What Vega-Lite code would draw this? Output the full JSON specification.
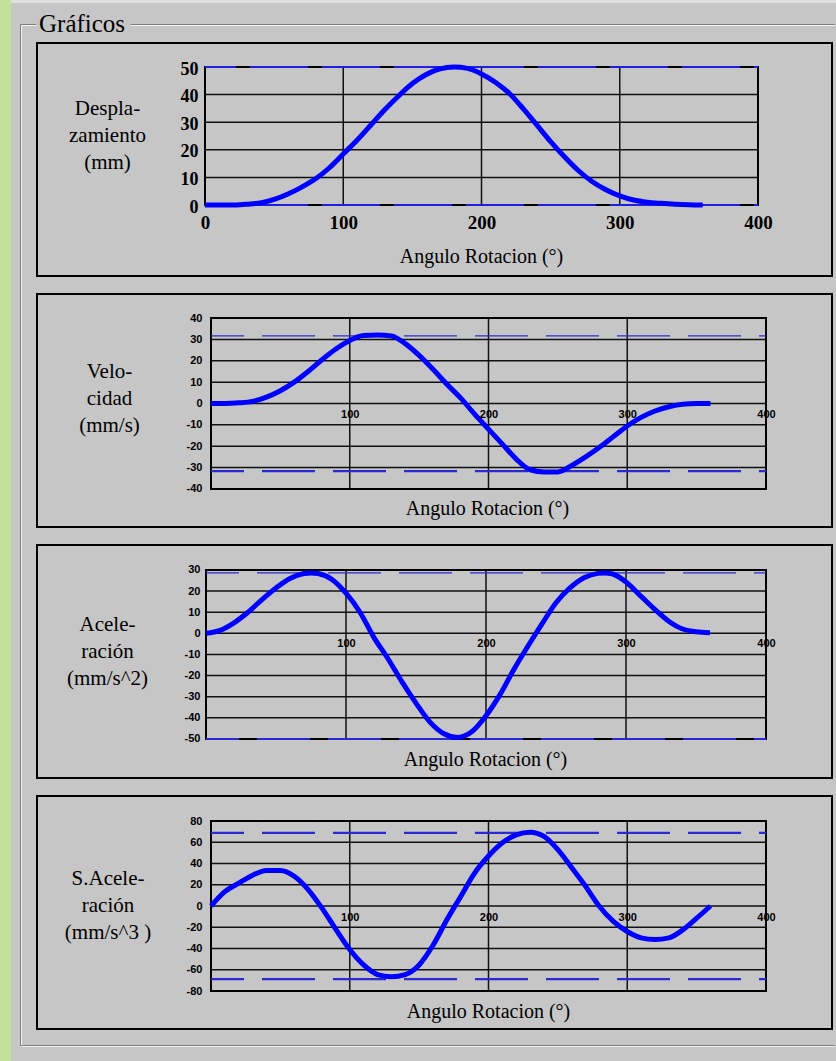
{
  "$schema": "https://vega.github.io/schema/vega-lite/v6.json",
  "background": "#c6c6c6",
  "padding": 0,
  "bounds": "flush",
  "spacing": 18,
  "config": {
    "view": {"stroke": null},
    "axis": {
      "domain": false, "ticks": false, "tickSize": 0, "grid": false,
      "labelFlush": false, "labelOverlap": false, "labelBound": false,
      "labelColor": "#000", "titleColor": "#000", "titleFontWeight": "normal",
      "titlePadding": 0
    }
  },
  "vconcat": [
    {
      "width": 795, "height": 233,
      "data": {"values": [{}]},
      "layer": [
        {"mark": {"type": "rect", "fill": "#c6c6c6"},
         "encoding": {"x": {"datum": -148.28}, "x2": {"datum": 456.42}, "y": {"datum": 74.275}, "y2": {"datum": -310.145}}},
        {"mark": {"type": "rect", "fill": "#dedede"},
         "encoding": {"x": {"datum": -148.28}, "x2": {"datum": 456.42}, "y": {"datum": 74.275}, "y2": {"datum": 73.19}}},
        {"mark": {"type": "rect", "fill": "#c3e096"},
         "encoding": {"x": {"datum": -148.28}, "x2": {"datum": -140.33}, "y": {"datum": 74.275}, "y2": {"datum": -310.145}}},
        {"mark": {"type": "rule", "color": "#f4f4f4", "strokeWidth": 1},
         "encoding": {"x": {"datum": -132.73}, "x2": {"datum": -122.24}, "y": {"datum": 65.04}}},
        {"mark": {"type": "rule", "color": "#f4f4f4", "strokeWidth": 1},
         "encoding": {"x": {"datum": -53.53}, "x2": {"datum": 455.7}, "y": {"datum": 65.04}}},
        {"mark": {"type": "rule", "color": "#f4f4f4", "strokeWidth": 1},
         "encoding": {"x": {"datum": -132.73}, "y": {"datum": 65.04}, "y2": {"datum": -304.89}}},
        {"mark": {"type": "rule", "color": "#f4f4f4", "strokeWidth": 1},
         "encoding": {"x": {"datum": -132.73}, "x2": {"datum": 455.7}, "y": {"datum": -304.89}}},
        {"mark": {"type": "rule", "color": "#7c7c7c", "strokeWidth": 1},
         "encoding": {"x": {"datum": -133.45}, "x2": {"datum": -122.24}, "y": {"datum": 65.4}}},
        {"mark": {"type": "rule", "color": "#7c7c7c", "strokeWidth": 1},
         "encoding": {"x": {"datum": -53.53}, "x2": {"datum": 455.7}, "y": {"datum": 65.4}}},
        {"mark": {"type": "rule", "color": "#7c7c7c", "strokeWidth": 1},
         "encoding": {"x": {"datum": -133.45}, "y": {"datum": 65.4}, "y2": {"datum": -304.53}}},
        {"mark": {"type": "rule", "color": "#7c7c7c", "strokeWidth": 1},
         "encoding": {"x": {"datum": -133.45}, "x2": {"datum": 455.7}, "y": {"datum": -304.53}}},
        {"mark": {"type": "text", "text": "Gráficos", "font": "Liberation Serif", "fontSize": 25, "align": "left", "baseline": "alphabetic", "color": "#000"},
         "encoding": {"x": {"datum": -120.07}, "y": {"datum": 62.68}}},
        {"mark": {"type": "rect", "filled": false, "stroke": "#000", "strokeWidth": 2},
         "encoding": {"x": {"datum": -121.52}, "x2": {"datum": 453.53}, "y": {"datum": -25.72}, "y2": {"datum": 58.7}}},
        {"data": {"values": [{"v": 10}, {"v": 20}, {"v": 30}, {"v": 40}]},
         "mark": {"type": "rule", "color": "#111", "strokeWidth": 1.5},
         "encoding": {"y": {"field": "v", "type": "quantitative"}, "x": {"datum": 0}, "x2": {"datum": 400}}},
        {"data": {"values": [{"a": 100}, {"a": 200}, {"a": 300}]},
         "mark": {"type": "rule", "color": "#111", "strokeWidth": 1.5},
         "encoding": {"x": {"field": "a", "type": "quantitative"}, "y": {"datum": 0}, "y2": {"datum": 50}}},
        {"mark": {"type": "rect", "filled": false, "stroke": "#000", "strokeWidth": 2},
         "encoding": {"x": {"datum": 0}, "x2": {"datum": 400}, "y": {"datum": 0}, "y2": {"datum": 50}}},
        {"data": {"values": [{"v": 50}, {"v": 0}]},
         "mark": {"type": "rule", "color": "#2020dd", "strokeWidth": 2, "strokeDash": [58, 14], "strokeDashOffset": 27},
         "encoding": {"y": {"field": "v", "type": "quantitative"}, "x": {"datum": 0}, "x2": {"datum": 400}}},
        {"data": {"values": [
          {"a": 0, "v": 0}, {"a": 10, "v": 0}, {"a": 20, "v": 0}, {"a": 30, "v": 0.3}, {"a": 40, "v": 0.7},
          {"a": 50, "v": 2}, {"a": 60, "v": 4}, {"a": 70, "v": 6.5}, {"a": 80, "v": 9.5}, {"a": 90, "v": 13.5},
          {"a": 100, "v": 18.5}, {"a": 110, "v": 23.5}, {"a": 120, "v": 29}, {"a": 130, "v": 34.5}, {"a": 140, "v": 39.5},
          {"a": 150, "v": 44}, {"a": 160, "v": 47.3}, {"a": 170, "v": 49.3}, {"a": 180, "v": 50}, {"a": 190, "v": 49.5},
          {"a": 200, "v": 47.5}, {"a": 210, "v": 44.5}, {"a": 220, "v": 40.5}, {"a": 230, "v": 35}, {"a": 240, "v": 29},
          {"a": 250, "v": 23}, {"a": 260, "v": 17.5}, {"a": 270, "v": 12.5}, {"a": 280, "v": 8.5}, {"a": 290, "v": 5.5},
          {"a": 300, "v": 3.3}, {"a": 310, "v": 1.8}, {"a": 320, "v": 1}, {"a": 330, "v": 0.6}, {"a": 340, "v": 0.3},
          {"a": 350, "v": 0.1}, {"a": 360, "v": 0}]},
         "mark": {"type": "line", "color": "#0000ff", "strokeWidth": 5, "interpolate": "monotone", "strokeJoin": "round"},
         "encoding": {
           "x": {"field": "a", "type": "quantitative",
                 "scale": {"domain": [-121.52, 453.53], "nice": false, "zero": false},
                 "axis": {"zindex": 1, "tickCount": 50, "labelOverlap": false, "values": [0, 100, 200, 300, 400], "offset": -71, "labelPadding": 17, "labelBaseline": "middle",
                          "labelFont": "Liberation Serif", "labelFontSize": 19, "labelFontWeight": "bold",
                          "labelExpr": "'' + datum.value",
                          "title": "Angulo Rotacion (°)", "titleFont": "Liberation Serif", "titleFontSize": 20,
                          "titleX": 444, "titleY": 57, "titleAlign": "center", "titleBaseline": "alphabetic", "titleAngle": 0}},
           "y": {"field": "v", "type": "quantitative",
                 "scale": {"domain": [-25.72, 58.7], "nice": false, "zero": false},
                 "axis": {"zindex": 1, "tickCount": 50, "labelOverlap": false, "values": [0, 10, 20, 30, 40, 50], "offset": -168, "labelPadding": 7, "labelBaseline": "middle", "labelOffset": 2,
                          "labelFont": "Liberation Serif", "labelFontSize": 18, "labelFontWeight": "bold",
                          "labelExpr": "'' + datum.value",
                          "title": ["Despla-", "zamiento", "(mm)"], "titleFont": "Liberation Serif", "titleFontSize": 21,
                          "titleAngle": 0, "titleAlign": "center", "titleBaseline": "alphabetic",
                          "titleX": -98, "titleY": 71, "titleLineHeight": 27}}
         }}
      ]
    },
    {
      "width": 795, "height": 233,
      "data": {"values": [{}]},
      "layer": [
        {"mark": {"type": "rect", "filled": false, "stroke": "#000", "strokeWidth": 2},
         "encoding": {"x": {"datum": -125.4}, "x2": {"datum": 447.57}, "y": {"datum": -57.78}, "y2": {"datum": 51.23}}},
        {"data": {"values": [{"v": -30}, {"v": -20}, {"v": -10}, {"v": 0}, {"v": 10}, {"v": 20}, {"v": 30}]},
         "mark": {"type": "rule", "color": "#111", "strokeWidth": 1.5},
         "encoding": {"y": {"field": "v", "type": "quantitative"}, "x": {"datum": 0}, "x2": {"datum": 400}}},
        {"data": {"values": [{"a": 100}, {"a": 200}, {"a": 300}]},
         "mark": {"type": "rule", "color": "#111", "strokeWidth": 1.5},
         "encoding": {"x": {"field": "a", "type": "quantitative"}, "y": {"datum": -40}, "y2": {"datum": 40}}},
        {"mark": {"type": "rect", "filled": false, "stroke": "#000", "strokeWidth": 2},
         "encoding": {"x": {"datum": 0}, "x2": {"datum": 400}, "y": {"datum": -40}, "y2": {"datum": 40}}},
        {"data": {"values": [{"v": 31.6, "b": "max"}, {"v": -31.6, "b": "min"}]},
         "mark": {"type": "rule", "color": "#2a2ad0", "strokeDash": [53, 18], "strokeDashOffset": 20},
         "encoding": {"y": {"field": "v", "type": "quantitative"}, "x": {"datum": 0}, "x2": {"datum": 400},
                      "size": {"field": "b", "type": "ordinal", "scale": {"domain": ["max", "min"], "range": [1.2, 2.2]}, "legend": null}}},
        {"data": {"values": [
          {"a": 0, "v": 0}, {"a": 10, "v": 0}, {"a": 20, "v": 0.3}, {"a": 30, "v": 1}, {"a": 40, "v": 3},
          {"a": 50, "v": 6}, {"a": 60, "v": 10}, {"a": 70, "v": 15}, {"a": 80, "v": 20.5}, {"a": 90, "v": 25.5},
          {"a": 100, "v": 29.5}, {"a": 110, "v": 31.8}, {"a": 120, "v": 32}, {"a": 130, "v": 31.6}, {"a": 140, "v": 28},
          {"a": 150, "v": 22.5}, {"a": 160, "v": 16}, {"a": 170, "v": 9}, {"a": 180, "v": 2.5}, {"a": 190, "v": -5},
          {"a": 200, "v": -12}, {"a": 210, "v": -19}, {"a": 220, "v": -26}, {"a": 230, "v": -31}, {"a": 240, "v": -32},
          {"a": 250, "v": -32}, {"a": 260, "v": -29}, {"a": 270, "v": -25}, {"a": 280, "v": -20.5}, {"a": 290, "v": -15.5},
          {"a": 300, "v": -10.5}, {"a": 310, "v": -6.5}, {"a": 320, "v": -3.5}, {"a": 330, "v": -1.5}, {"a": 340, "v": -0.3},
          {"a": 350, "v": 0}, {"a": 360, "v": 0}]},
         "mark": {"type": "line", "color": "#0000ff", "strokeWidth": 5, "interpolate": "monotone", "strokeJoin": "round"},
         "encoding": {
           "x": {"field": "a", "type": "quantitative",
                 "scale": {"domain": [-125.4, 447.57], "nice": false, "zero": false},
                 "axis": {"zindex": 1, "tickCount": 50, "labelOverlap": false, "values": [100, 200, 300, 400], "offset": -123.5, "labelPadding": 11, "labelBaseline": "middle",
                          "labelFont": "Liberation Sans", "labelFontSize": 11, "labelFontWeight": "bold",
                          "labelExpr": "'' + datum.value",
                          "title": "Angulo Rotacion (°)", "titleFont": "Liberation Serif", "titleFontSize": 20,
                          "titleX": 450, "titleY": 110.5, "titleAlign": "center", "titleBaseline": "alphabetic", "titleAngle": 0}},
           "y": {"field": "v", "type": "quantitative",
                 "scale": {"domain": [-57.78, 51.23], "nice": false, "zero": false},
                 "axis": {"zindex": 1, "tickCount": 50, "labelOverlap": false, "values": [-40, -30, -20, -10, 0, 10, 20, 30, 40], "offset": -174, "labelPadding": 9, "labelBaseline": "middle",
                          "labelFont": "Liberation Sans", "labelFontSize": 11, "labelFontWeight": "bold",
                          "labelExpr": "'' + datum.value",
                          "title": ["Velo-", "cidad", "(mm/s)"], "titleFont": "Liberation Serif", "titleFontSize": 21,
                          "titleAngle": 0, "titleAlign": "center", "titleBaseline": "alphabetic",
                          "titleX": -102, "titleY": 83, "titleLineHeight": 27}}
         }}
      ]
    },
    {
      "width": 795, "height": 233,
      "data": {"values": [{}]},
      "layer": [
        {"mark": {"type": "rect", "filled": false, "stroke": "#000", "strokeWidth": 2},
         "encoding": {"x": {"datum": -120.71}, "x2": {"datum": 447.14}, "y": {"datum": -68.47}, "y2": {"datum": 41.83}}},
        {"data": {"values": [{"v": -40}, {"v": -30}, {"v": -20}, {"v": -10}, {"v": 0}, {"v": 10}, {"v": 20}]},
         "mark": {"type": "rule", "color": "#111", "strokeWidth": 1.5},
         "encoding": {"y": {"field": "v", "type": "quantitative"}, "x": {"datum": 0}, "x2": {"datum": 400}}},
        {"data": {"values": [{"a": 100}, {"a": 200}, {"a": 300}]},
         "mark": {"type": "rule", "color": "#111", "strokeWidth": 1.5},
         "encoding": {"x": {"field": "a", "type": "quantitative"}, "y": {"datum": -50}, "y2": {"datum": 30}}},
        {"mark": {"type": "rect", "filled": false, "stroke": "#000", "strokeWidth": 2},
         "encoding": {"x": {"datum": 0}, "x2": {"datum": 400}, "y": {"datum": -50}, "y2": {"datum": 30}}},
        {"data": {"values": [{"v": 28.6, "b": "max"}, {"v": -50, "b": "min"}]},
         "mark": {"type": "rule", "color": "#2a2ad0", "strokeDash": [53, 18], "strokeDashOffset": 20},
         "encoding": {"y": {"field": "v", "type": "quantitative"}, "x": {"datum": 0}, "x2": {"datum": 400},
                      "size": {"field": "b", "type": "ordinal", "scale": {"domain": ["max", "min"], "range": [1.2, 2.2]}, "legend": null}}},
        {"data": {"values": [
          {"a": 0, "v": 0}, {"a": 10, "v": 1.4}, {"a": 20, "v": 5}, {"a": 30, "v": 10}, {"a": 40, "v": 16},
          {"a": 50, "v": 21.5}, {"a": 60, "v": 26}, {"a": 70, "v": 28.3}, {"a": 75, "v": 28.6}, {"a": 80, "v": 28.3},
          {"a": 90, "v": 25.5}, {"a": 100, "v": 19}, {"a": 110, "v": 10}, {"a": 120, "v": -2}, {"a": 130, "v": -12},
          {"a": 140, "v": -23}, {"a": 150, "v": -33}, {"a": 160, "v": -42}, {"a": 170, "v": -47.5}, {"a": 180, "v": -49.3},
          {"a": 190, "v": -46.5}, {"a": 200, "v": -39}, {"a": 210, "v": -29}, {"a": 220, "v": -17}, {"a": 230, "v": -6},
          {"a": 240, "v": 4.5}, {"a": 250, "v": 14.5}, {"a": 260, "v": 21.5}, {"a": 270, "v": 26.3}, {"a": 280, "v": 28.4},
          {"a": 285, "v": 28.6}, {"a": 290, "v": 28.2}, {"a": 300, "v": 24.3}, {"a": 310, "v": 18}, {"a": 320, "v": 11.7},
          {"a": 330, "v": 6}, {"a": 340, "v": 2.2}, {"a": 350, "v": 0.8}, {"a": 360, "v": 0.3}]},
         "mark": {"type": "line", "color": "#0000ff", "strokeWidth": 5, "interpolate": "monotone", "strokeJoin": "round"},
         "encoding": {
           "x": {"field": "a", "type": "quantitative",
                 "scale": {"domain": [-120.71, 447.14], "nice": false, "zero": false},
                 "axis": {"zindex": 1, "tickCount": 50, "labelOverlap": false, "values": [100, 200, 300, 400], "offset": -144.6, "labelPadding": 10.5, "labelBaseline": "middle",
                          "labelFont": "Liberation Sans", "labelFontSize": 11, "labelFontWeight": "bold",
                          "labelExpr": "'' + datum.value",
                          "title": "Angulo Rotacion (°)", "titleFont": "Liberation Serif", "titleFontSize": 20,
                          "titleX": 448, "titleY": 131.6, "titleAlign": "center", "titleBaseline": "alphabetic", "titleAngle": 0}},
           "y": {"field": "v", "type": "quantitative",
                 "scale": {"domain": [-68.47, 41.83], "nice": false, "zero": false},
                 "axis": {"zindex": 1, "tickCount": 50, "labelOverlap": false, "values": [-50, -40, -30, -20, -10, 0, 10, 20, 30], "offset": -169, "labelPadding": 6, "labelBaseline": "middle",
                          "labelFont": "Liberation Sans", "labelFontSize": 11, "labelFontWeight": "bold",
                          "labelExpr": "'' + datum.value",
                          "title": ["Acele-", "ración", "(mm/s^2)"], "titleFont": "Liberation Serif", "titleFontSize": 21,
                          "titleAngle": 0, "titleAlign": "center", "titleBaseline": "alphabetic",
                          "titleX": -99, "titleY": 85, "titleLineHeight": 27}}
         }}
      ]
    },
    {
      "width": 795, "height": 233,
      "data": {"values": [{}]},
      "layer": [
        {"mark": {"type": "rect", "filled": false, "stroke": "#000", "strokeWidth": 2},
         "encoding": {"x": {"datum": -125.4}, "x2": {"datum": 447.57}, "y": {"datum": -115.76}, "y2": {"datum": 103.53}}},
        {"data": {"values": [{"v": -60}, {"v": -40}, {"v": -20}, {"v": 0}, {"v": 20}, {"v": 40}, {"v": 60}]},
         "mark": {"type": "rule", "color": "#111", "strokeWidth": 1.5},
         "encoding": {"y": {"field": "v", "type": "quantitative"}, "x": {"datum": 0}, "x2": {"datum": 400}}},
        {"data": {"values": [{"a": 100}, {"a": 200}, {"a": 300}]},
         "mark": {"type": "rule", "color": "#111", "strokeWidth": 1.5},
         "encoding": {"x": {"field": "a", "type": "quantitative"}, "y": {"datum": -80}, "y2": {"datum": 80}}},
        {"mark": {"type": "rect", "filled": false, "stroke": "#000", "strokeWidth": 2},
         "encoding": {"x": {"datum": 0}, "x2": {"datum": 400}, "y": {"datum": -80}, "y2": {"datum": 80}}},
        {"data": {"values": [{"v": 68.8}, {"v": -68.8}]},
         "mark": {"type": "rule", "color": "#2a2ad0", "strokeWidth": 2.2, "strokeDash": [53, 18], "strokeDashOffset": 20},
         "encoding": {"y": {"field": "v", "type": "quantitative"}, "x": {"datum": 0}, "x2": {"datum": 400}}},
        {"data": {"values": [
          {"a": 0, "v": 0}, {"a": 10, "v": 13.5}, {"a": 20, "v": 21.5}, {"a": 30, "v": 29}, {"a": 40, "v": 33.5},
          {"a": 50, "v": 33.5}, {"a": 60, "v": 28}, {"a": 70, "v": 15.5}, {"a": 80, "v": -2}, {"a": 90, "v": -22},
          {"a": 100, "v": -41}, {"a": 110, "v": -55.5}, {"a": 120, "v": -64.5}, {"a": 130, "v": -66.5}, {"a": 140, "v": -64.5},
          {"a": 150, "v": -55.5}, {"a": 160, "v": -37}, {"a": 170, "v": -13}, {"a": 180, "v": 9}, {"a": 190, "v": 31},
          {"a": 200, "v": 47}, {"a": 210, "v": 59.5}, {"a": 220, "v": 67}, {"a": 230, "v": 69.5}, {"a": 240, "v": 65.5},
          {"a": 250, "v": 53}, {"a": 260, "v": 36}, {"a": 270, "v": 18.5}, {"a": 280, "v": -0.5}, {"a": 290, "v": -14.5},
          {"a": 300, "v": -24}, {"a": 310, "v": -30}, {"a": 320, "v": -31.5}, {"a": 330, "v": -30}, {"a": 340, "v": -22.5},
          {"a": 350, "v": -11.5}, {"a": 360, "v": 0}]},
         "mark": {"type": "line", "color": "#0000ff", "strokeWidth": 5, "interpolate": "monotone", "strokeJoin": "round"},
         "encoding": {
           "x": {"field": "a", "type": "quantitative",
                 "scale": {"domain": [-125.4, 447.57], "nice": false, "zero": false},
                 "axis": {"zindex": 1, "tickCount": 50, "labelOverlap": false, "values": [100, 200, 300, 400], "offset": -123, "labelPadding": 11.5, "labelBaseline": "middle",
                          "labelFont": "Liberation Sans", "labelFontSize": 11, "labelFontWeight": "bold",
                          "labelExpr": "'' + datum.value",
                          "title": "Angulo Rotacion (°)", "titleFont": "Liberation Serif", "titleFontSize": 20,
                          "titleX": 451, "titleY": 111, "titleAlign": "center", "titleBaseline": "alphabetic", "titleAngle": 0}},
           "y": {"field": "v", "type": "quantitative",
                 "scale": {"domain": [-115.76, 103.53], "nice": false, "zero": false},
                 "axis": {"zindex": 1, "tickCount": 50, "labelOverlap": false, "values": [-80, -60, -40, -20, 0, 20, 40, 60, 80], "offset": -174, "labelPadding": 9, "labelBaseline": "middle",
                          "labelFont": "Liberation Sans", "labelFontSize": 11, "labelFontWeight": "bold",
                          "labelExpr": "'' + datum.value",
                          "title": ["S.Acele-", "ración", "(mm/s^3 )"], "titleFont": "Liberation Serif", "titleFontSize": 21,
                          "titleAngle": 0, "titleAlign": "center", "titleBaseline": "alphabetic",
                          "titleX": -103.5, "titleY": 88, "titleLineHeight": 27}}
         }}
      ]
    }
  ]
}
